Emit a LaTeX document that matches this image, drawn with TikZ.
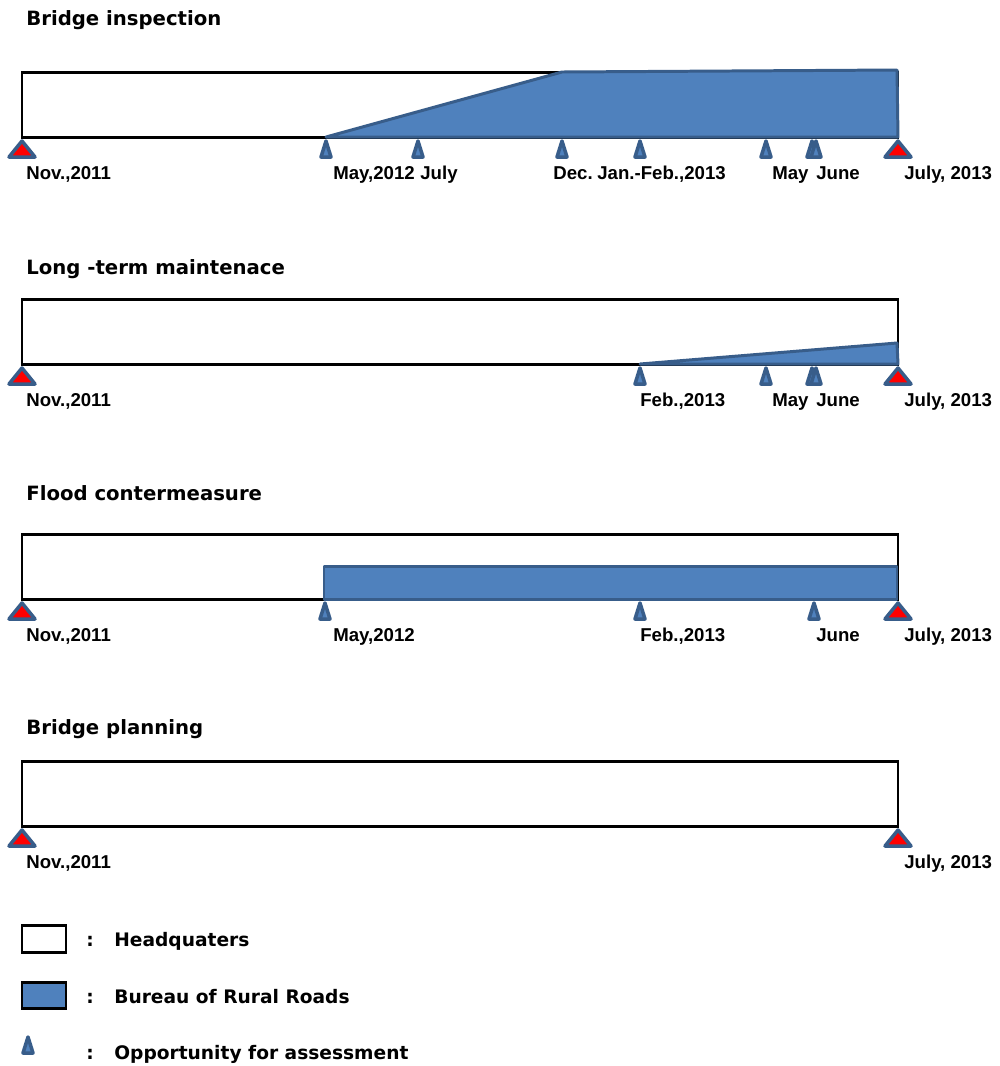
\documentclass[tikz,border=0pt]{standalone}
\usepackage{fontspec}
\setmainfont{Liberation Sans}
\newfontfamily\headfamily{DejaVu Sans}
\usetikzlibrary{positioning}
\definecolor{barblue}{RGB}{79,129,189}
\definecolor{edgeblue}{RGB}{56,93,138}
\newcommand{\titlefont}{\headfamily\bfseries\fontsize{11.2}{13}\selectfont}
\newcommand{\headfont}{\headfamily\bfseries\fontsize{10.6}{12}\selectfont}
\newcommand{\datefont}{\bfseries\fontsize{10.6}{12}\selectfont}
\tikzset{
  panel/.style={draw=black,line width=1.7pt,fill=#1},
  panel/.default=white,
  share/.style={fill=barblue,draw=edgeblue,line width=1.7pt,line join=round},
  title/.style={anchor=base west,inner sep=0pt,font=\titlefont},
  head/.style={anchor=base west,inner sep=0pt,font=\headfont},
  date/.style={anchor=base west,inner sep=0pt,font=\datefont},
  % markers
  pics/check/.style={code={
    \filldraw[fill=barblue,draw=edgeblue,line width=2pt,line join=round] (0,4) -- (5,20) -- (-5,20) -- cycle;
  }},
  pics/goal/.style={code={
    \filldraw[fill=red,draw=edgeblue,line width=2pt,line join=round] (0,4) -- (13,20) -- (-13,20) -- cycle;
  }},
}

\begin{document}
\begin{tikzpicture}[x=0.02cm,y=-0.02cm]
  \useasboundingbox[fill=white] (0,0) rectangle (1000,1066);
  % Bridge inspection
  \node[title] (t1) at (26,25) {Bridge inspection};
  \draw[panel] (22,72) rectangle (898,137);
  \filldraw[share] (326,137) -- (562,72) -- (897,70) -- (898,137) -- cycle;
  \foreach \x in {326,418,562,640,766,812,816} \pic at (\x,137) {check};
  \foreach \x in {22,898} \pic at (\x,137) {goal};
  \node[date] (a1) at (26,179) {Nov.,2011};
  \node[date] (a2) at (333,179) {May,2012};
  \node[date] (a3) at (420,179) {July};
  \node[date] (a4) at (553,179) {Dec.};
  \node[date] (a5) at (597,179) {Jan.-Feb.,2013};
  \node[date] (a6) at (772,179) {May};
  \node[date] (a7) at (816,179) {June};
  \node[date] (a8) at (904,179) {July, 2013};
  % Long-term maintenance
  \node[title] (t2) at (26,274) {Long -term maintenace};
  \draw[panel] (22,299) rectangle (898,364);
  \filldraw[share] (640,364) -- (897,343) -- (898,364) -- cycle;
  \foreach \x in {640,766,812,816} \pic at (\x,364) {check};
  \foreach \x in {22,898} \pic at (\x,364) {goal};
  \node[date] (b1) at (26,406) {Nov.,2011};
  \node[date] (b2) at (640,406) {Feb.,2013};
  \node[date] (b3) at (772,406) {May};
  \node[date] (b4) at (816,406) {June};
  \node[date] (b5) at (904,406) {July, 2013};
  % Flood countermeasure
  \node[title] (t3) at (26,500) {Flood contermeasure};
  \draw[panel] (22,534) rectangle (898,599);
  \filldraw[share] (324,566) rectangle (897,599);
  \foreach \x in {325,640,814} \pic at (\x,599) {check};
  \foreach \x in {22,898} \pic at (\x,599) {goal};
  \node[date] (c1) at (26,641) {Nov.,2011};
  \node[date] (c2) at (333,641) {May,2012};
  \node[date] (c3) at (640,641) {Feb.,2013};
  \node[date] (c4) at (816,641) {June};
  \node[date] (c5) at (904,641) {July, 2013};
  % Bridge planning
  \node[title] (t4) at (26,734) {Bridge planning};
  \draw[panel] (22,761) rectangle (898,826);
  \foreach \x in {22,898} \pic at (\x,826) {goal};
  \node[date] (d1) at (26,868) {Nov.,2011};
  \node[date] (d2) at (904,868) {July, 2013};
  % legend
  \draw[panel] (22,925) rectangle (66,952);
  \draw[panel=barblue] (22,982) rectangle (66,1008);
  \pic at (28,1033) {check};
  \node[head] (k1) at (86,946) {:};
  \node[head] (l1) at (114,946) {Headquaters};
  \node[head] (k2) at (86,1003) {:};
  \node[head] (l2) at (114,1003) {Bureau of Rural Roads};
  \node[head] (k3) at (86,1059) {:};
  \node[head] (l3) at (114,1059) {Opportunity for assessment};
\end{tikzpicture}
\end{document}
